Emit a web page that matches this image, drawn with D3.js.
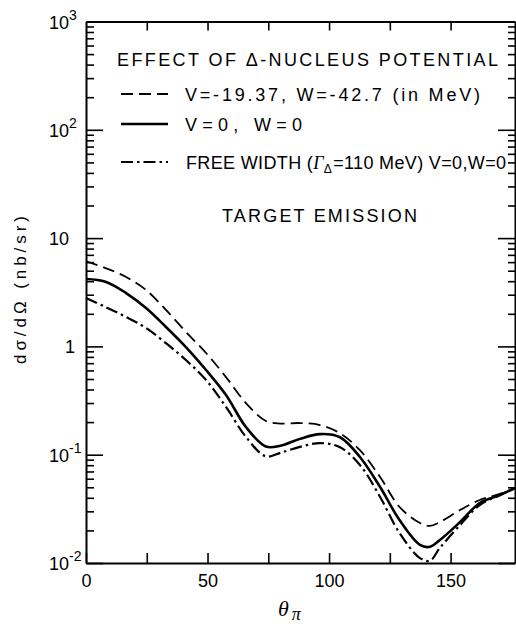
<!DOCTYPE html>
<html><head><meta charset="utf-8">
<script src="https://cdn.jsdelivr.net/npm/d3@7"></script>
<style>body{margin:0;background:#fff}svg{display:block}</style>
</head><body><svg id="c" width="516" height="628"></svg>
<script>
// ---- data ----
const theta = [0, 8, 16.5, 24.7, 32.9, 41.1, 49.4, 57.6, 65.8, 74, 80, 88, 96.3, 104.5, 112.7, 121, 129, 137.4, 141.5, 145.6, 153.9, 162, 170.3, 176.5];
const sigmaPotential = [6.1, 5.29, 4.37, 3.32, 2.17, 1.36, 0.869, 0.521, 0.300, 0.205, 0.194, 0.196, 0.188, 0.158, 0.110, 0.0622, 0.0329, 0.0234, 0.0220, 0.0239, 0.0308, 0.0382, 0.0434, 0.0493];
const sigmaZero = [4.19, 3.96, 3.11, 2.26, 1.51, 0.986, 0.605, 0.356, 0.180, 0.119, 0.121, 0.140, 0.155, 0.145, 0.0953, 0.0503, 0.0249, 0.0147, 0.0141, 0.0163, 0.0239, 0.0358, 0.0425, 0.0493];
const sigmaFree = [2.80, 2.31, 1.87, 1.48, 1.07, 0.748, 0.490, 0.276, 0.146, 0.0965, 0.104, 0.118, 0.128, 0.117, 0.0804, 0.0407, 0.0189, 0.0111, 0.0105, 0.0138, 0.0224, 0.0343, 0.0425, 0.0493];
const xTicks = [25, 50, 75, 100, 125, 150];
const xTickLabels = [0, 50, 100, 150];
const yMajor = [1e-2, 1e-1, 1, 10, 100, 1000];
const yLabelBase = ["10", "10", "1", "10", "10", "10"];
const yLabelExp = ["-2", "-1", "", "", "2", "3"];
const legendTitle = "EFFECT OF Δ-NUCLEUS POTENTIAL";
const legendLabels = ["V=-19.37,  W=-42.7 (in MeV)", "V=0,  W=0"];
const annotation = "TARGET EMISSION";

// ---- scales ----
const svg = d3.select("#c");
const font = "'Liberation Sans', Arial, sans-serif";
const x = d3.scaleLinear().domain([0, 176.5]).range([86, 515]);
const y = d3.scaleLog().domain([1e-2, 1e3]).range([563, 21.5]);

const yAll = [];
for (let d = -2; d <= 2; d++) for (let k = 1; k <= 9; k++) yAll.push(k * Math.pow(10, d));
yAll.push(1000);
const isMajor = v => yMajor.some(m => Math.abs(v / m - 1) < 1e-6);

// ---- axes ----
const gB = svg.append("g").attr("transform", `translate(0,${y.range()[0]})`)
  .call(d3.axisBottom(x).tickValues(xTicks.concat([0])).tickSizeInner(-10).tickSizeOuter(0).tickPadding(11)
    .tickFormat(d => xTickLabels.includes(d) ? d : ""));
gB.selectAll("text").attr("font-family", font).attr("font-size", 18).attr("fill", "#000");

const gT = svg.append("g").attr("transform", `translate(0,${y.range()[1]})`)
  .call(d3.axisTop(x).tickValues(xTicks).tickSizeInner(-9).tickSizeOuter(0).tickFormat(""));

const gL = svg.append("g").attr("transform", `translate(${x.range()[0]},0)`)
  .call(d3.axisLeft(y).tickValues(yAll).tickSizeInner(-8).tickSizeOuter(0).tickFormat(""));
gL.selectAll(".tick line").attr("x2", d => isMajor(d) ? 17 : 8);

const gR = svg.append("g").attr("transform", `translate(${x.range()[1]},0)`)
  .call(d3.axisRight(y).tickValues(yAll).tickSizeInner(-7).tickSizeOuter(0).tickFormat(""));
gR.selectAll(".tick line").attr("x2", d => isMajor(d) ? -17 : -7);

svg.selectAll(".domain").attr("stroke", "#000").attr("stroke-width", 2);
svg.selectAll(".tick line").attr("stroke", "#000").attr("stroke-width", 1.6);

// y tick labels
yMajor.forEach((v, i) => {
  const t = svg.append("text").attr("font-family", font).attr("font-size", 18).attr("fill", "#000")
    .attr("y", y(v) + 7);
  if (yLabelBase[i] === "1") {
    t.attr("x", 75).attr("text-anchor", "end").text("1");
  } else {
    t.attr("x", 49).text(yLabelBase[i]);
    if (yLabelExp[i]) t.append("tspan").attr("font-size", 14).attr("dy", -9).text(yLabelExp[i]);
  }
});

// ---- curves ----
const line = d3.line().x((d, i) => x(theta[i])).y(d => y(d)).curve(d3.curveCatmullRom.alpha(0.5));
const series = [
  { v: sigmaPotential, dash: "12,6", w: 1.8 },
  { v: sigmaZero, dash: null, w: 2.6 },
  { v: sigmaFree, dash: "12,4,2.5,4", w: 2.2 }
];
series.forEach(s => {
  svg.append("path").attr("d", line(s.v)).attr("fill", "none").attr("stroke", "#000")
    .attr("stroke-width", s.w).attr("stroke-dasharray", s.dash);
});

// ---- legend ----
svg.append("text").attr("x", 117).attr("y", 66).attr("font-family", font).attr("font-size", 18)
  .attr("textLength", 381).attr("lengthAdjust", "spacing").text(legendTitle);
const legY = [94, 124, 162];
series.forEach((s, i) => {
  svg.append("line").attr("x1", 121).attr("x2", 168).attr("y1", legY[i]).attr("y2", legY[i])
    .attr("stroke", "#000").attr("stroke-width", s.w).attr("stroke-dasharray", s.dash);
});
svg.append("text").attr("x", 185).attr("y", legY[0] + 7).attr("font-family", font).attr("font-size", 18)
  .attr("textLength", 295).attr("lengthAdjust", "spacing").text(legendLabels[0]);
svg.append("text").attr("x", 185).attr("y", legY[1] + 7).attr("font-family", font).attr("font-size", 18)
  .attr("textLength", 117).attr("lengthAdjust", "spacing").text(legendLabels[1]);
const t4 = svg.append("text").attr("x", 186).attr("y", legY[2] + 7).attr("font-family", font).attr("font-size", 18)
  .attr("letter-spacing", 0.35);
t4.append("tspan").text("FREE  WIDTH  (");
t4.append("tspan").attr("font-family", "'Liberation Serif', serif").attr("font-style", "italic").text("Γ");
t4.append("tspan").attr("font-size", 12).attr("dy", 4).text("Δ");
t4.append("tspan").attr("dy", -4).attr("dx", 1).text("=110 MeV)  V=0,W=0");

svg.append("text").attr("x", 222).attr("y", 222).attr("font-family", font).attr("font-size", 18)
  .attr("textLength", 195).attr("lengthAdjust", "spacing").text(annotation);

// ---- axis titles ----
svg.append("text").attr("transform", "translate(26,290) rotate(-90)").attr("text-anchor", "middle")
  .attr("font-family", font).attr("font-size", 17).attr("textLength", 148).attr("lengthAdjust", "spacing")
  .text("dσ/dΩ   (nb/sr)");
const xt = svg.append("text").attr("x", 278).attr("y", 616).attr("font-family", "'Liberation Serif', serif")
  .attr("font-style", "italic").attr("font-size", 22);
xt.append("tspan").text("θ");
xt.append("tspan").attr("dx", 3).attr("dy", 4).attr("font-size", 18).text("π");
</script></body></html>
